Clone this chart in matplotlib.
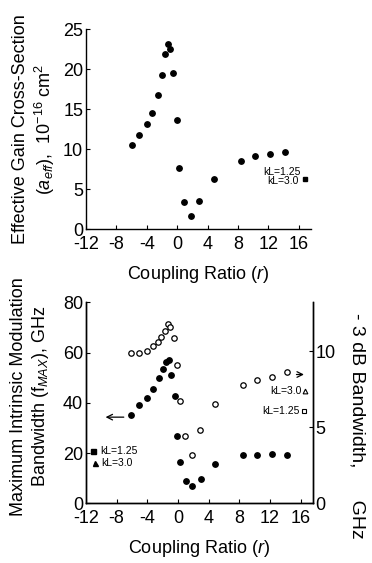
import matplotlib
matplotlib.use("Agg")
import matplotlib.pyplot as plt

plt.rcParams["font.family"] = ["Liberation Sans", "DejaVu Sans"]
plt.rcParams["mathtext.fontset"] = "custom"
plt.rcParams["mathtext.rm"] = "Liberation Sans"
plt.rcParams["mathtext.it"] = "Liberation Sans:italic"
plt.rcParams["axes.unicode_minus"] = False

# top panel: effective gain cross-section
r_gain = [-6.0, -5.0, -4.0, -3.26, -2.57, -2.04, -1.65, -1.26, -0.91, -0.52,
          -0.04, 0.3, 0.96, 1.78, 2.9, 4.8, 8.4, 10.3, 12.2, 14.2]
a_eff = [10.5, 11.8, 13.1, 14.5, 16.8, 19.3, 21.9, 23.1, 22.5, 19.5,
         13.6, 7.6, 3.4, 1.7, 3.5, 6.3, 8.5, 9.1, 9.4, 9.7]

# bottom panel: f_max (left axis) and -3 dB bandwidth (right axis)
r_fmax = [-6.1, -5.05, -4.0, -3.2, -2.5, -2.0, -1.6, -1.16, -0.88, -0.44,
          -0.06, 0.3, 1.0, 1.8, 2.95, 4.8, 8.55, 10.3, 12.3, 14.2]
f_max = [35.0, 39.2, 42.1, 45.6, 49.8, 53.5, 56.1, 57.2, 51.1, 42.7,
         26.8, 16.4, 8.7, 7.0, 9.6, 15.7, 19.4, 19.1, 19.8, 19.4]

r_bw = [-6.1, -5.1, -4.05, -3.3, -2.65, -2.15, -1.7, -1.3, -1.0, -0.55,
        -0.08, 0.25, 0.9, 1.8, 2.9, 4.8, 8.5, 10.3, 12.3, 14.2]
bw_3db = [9.9, 9.9, 10.0, 10.35, 10.6, 10.95, 11.35, 11.75, 11.6, 10.85,
          9.1, 6.7, 4.4, 3.2, 4.8, 6.55, 7.8, 8.1, 8.3, 8.6]

x_ticks = [-12, -8, -4, 0, 4, 8, 12, 16]
fs = 13

fig = plt.figure(figsize=(3.72, 5.63), dpi=100)
ax1 = fig.add_axes([0.231, 0.593, 0.605, 0.355])
ax2 = fig.add_axes([0.231, 0.106, 0.610, 0.357])

ax1.plot(r_gain, a_eff, "o", color="black", ms=3.9)
ax1.set_xlim(-12, 17.6)
ax1.set_ylim(0, 25)
ax1.set_xticks(x_ticks)
ax1.set_yticks([0, 5, 10, 15, 20, 25])
ax1.spines["top"].set_visible(False)
ax1.spines["right"].set_visible(False)
ax1.set_xlabel("Coupling Ratio ($r$)", fontsize=fs, labelpad=8)
ax1.set_ylabel("Effective Gain Cross-Section\n($a_{eff}$),  10$^{-16}$ cm$^2$",
               fontsize=fs, linespacing=1.2, va="center")
ax1.yaxis.set_label_coords(-0.227, 0.5)
ax1.text(0.956, 0.287, "kL=1.25", transform=ax1.transAxes, fontsize=7.5,
         ha="right", va="center")
ax1.text(0.944, 0.24, "kL=3.0", transform=ax1.transAxes, fontsize=7.5,
         ha="right", va="center")
ax1.plot([0.972], [0.2485], "s", color="black", ms=3.2, transform=ax1.transAxes,
         clip_on=False)

ax2.plot(r_fmax, f_max, "o", color="black", ms=3.9)
ax2.set_xlim(-12, 17.6)
ax2.set_ylim(0, 80)
ax2.set_xticks(x_ticks)
ax2.set_yticks([0, 20, 40, 60, 80])
ax2.spines["top"].set_visible(False)
ax2.set_xlabel("Coupling Ratio ($r$)", fontsize=fs, labelpad=8)
ax2.set_ylabel("Maximum Intrinsic Modulation\nBandwidth (f$_{MAX}$), GHz",
               fontsize=fs, linespacing=1.2, va="center")
ax2.yaxis.set_label_coords(-0.245, 0.53)

ax3 = ax2.twinx()
ax3.plot(r_bw, bw_3db, "o", mfc="white", mec="black", mew=0.9, ms=3.9)
ax3.set_ylim(0, 13.2)
ax3.set_yticks([0, 5, 10])
ax3.spines["top"].set_visible(False)
ax3.set_ylabel("- 3 dB Bandwidth,      GHz", fontsize=14, rotation=270,
               va="center")
ax3.yaxis.set_label_coords(1.195, 0.385)

ax2.annotate("", xy=(-9.8, 34.3), xytext=(-6.7, 34.3),
             arrowprops=dict(arrowstyle="->", color="black", lw=0.9))
ax3.annotate("", xy=(16.8, 8.46), xytext=(15.1, 8.46),
             arrowprops=dict(arrowstyle="->", color="black", lw=0.9))

ax2.plot([0.032], [0.258], "s", color="black", ms=3.6, transform=ax2.transAxes)
ax2.plot([0.04], [0.203], "^", color="black", ms=3.6, transform=ax2.transAxes)
ax2.text(0.062, 0.258, "kL=1.25", transform=ax2.transAxes, fontsize=7.5, va="center")
ax2.text(0.069, 0.203, "kL=3.0", transform=ax2.transAxes, fontsize=7.5, va="center")
ax2.text(0.95, 0.557, "kL=3.0", transform=ax2.transAxes, fontsize=7.5,
         ha="right", va="center")
ax2.text(0.943, 0.461, "kL=1.25", transform=ax2.transAxes, fontsize=7.5,
         ha="right", va="center")
ax2.plot([0.965], [0.557], "^", mfc="white", mec="black", mew=0.8, ms=3.4,
         transform=ax2.transAxes)
ax2.plot([0.961], [0.461], "s", mfc="white", mec="black", mew=0.8, ms=3.4,
         transform=ax2.transAxes)

for ax in (ax1, ax2, ax3):
    ax.tick_params(direction="in", length=3, width=0.8, labelsize=fs, pad=2)
    ax.tick_params(axis="x", pad=5)
    for s in ax.spines.values():
        s.set_linewidth(1.0)

fig.savefig("out.png", dpi=100)
